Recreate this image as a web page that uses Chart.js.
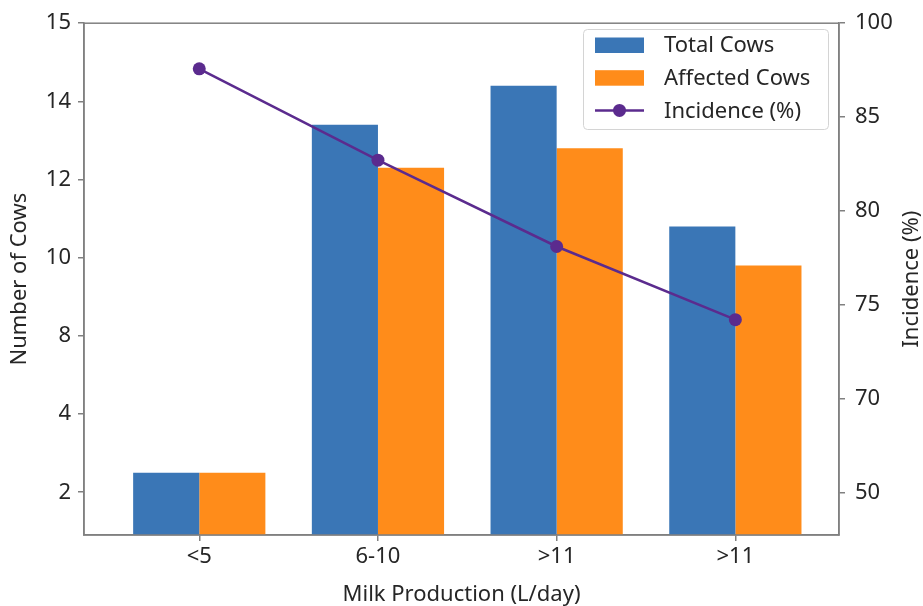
<!DOCTYPE html>
<html>
<head>
<meta charset="utf-8">
<script src="https://cdn.jsdelivr.net/npm/chart.js@4.4.0/dist/chart.umd.min.js"></script>
<style>
  html, body { margin: 0; padding: 0; background: #fff; }
</style>
</head>
<body>
<canvas id="chart" width="923" height="606"></canvas>
<script>
// data
const categories = ['<5', '6-10', '>11', '>11'];
const totalCows = [2.5, 13.4, 14.2, 10.8];
const affectedCows = [2.5, 12.3, 12.8, 9.8];
const incidence = [92.7, 82.7, 78.1, 74.2];

// printed tick labels; they sit evenly spaced although the numbers are not
const cowTicks = [2, 4, 8, 10, 12, 14, 15];
const incTicks = [50, 70, 75, 80, 85, 100];

// value -> position on a warped axis (linear between neighbouring printed ticks)
function slot(v, ticks) {
    for (let i = 0; i < ticks.length - 1; i++) {
        if (v <= ticks[i + 1] || i === ticks.length - 2) {
            return i + (v - ticks[i]) / (ticks[i + 1] - ticks[i]);
        }
    }
}

const font = { family: '"Noto Sans", sans-serif', size: 22 };
const ink = '#262626';
const spine = '#808080';
const colors = { total: '#3a76b6', affected: '#ff8c1a', incidence: '#5b2b8e' };

const yMin = -0.547;   // axis runs a bit below the lowest printed tick
const y1Min = -0.455;

const axisGrid = { display: true, drawOnChartArea: false, drawTicks: true, tickLength: 6, color: spine, lineWidth: 1.5, offset: false };
const axisBorder = { display: true, color: spine, width: 1.5 };

const extras = {
    id: 'extras',
    afterDraw(chart) {
        const ctx = chart.ctx, a = chart.chartArea;
        ctx.save();
        // full box round the plot
        ctx.strokeStyle = spine;
        ctx.lineWidth = 1.5;
        ctx.strokeRect(a.left, a.top, a.right - a.left, a.bottom - a.top);

        // right axis title, reading bottom to top
        ctx.fillStyle = ink;
        ctx.font = `${font.size}px ${font.family}`;
        ctx.textAlign = 'center';
        ctx.textBaseline = 'middle';
        ctx.translate(912, (a.top + a.bottom) / 2);
        ctx.rotate(-Math.PI / 2);
        ctx.fillText(chart.options.scales.y1.title.text, 0, 0);
        ctx.restore();

        // legend box
        const bx = 583.5, by = 29.5, bw = 245, bh = 100, r = 4;
        ctx.save();
        ctx.beginPath();
        ctx.moveTo(bx + r, by);
        ctx.arcTo(bx + bw, by, bx + bw, by + bh, r);
        ctx.arcTo(bx + bw, by + bh, bx, by + bh, r);
        ctx.arcTo(bx, by + bh, bx, by, r);
        ctx.arcTo(bx, by, bx + bw, by, r);
        ctx.closePath();
        ctx.fillStyle = 'rgba(255,255,255,0.85)';
        ctx.fill();
        ctx.strokeStyle = '#d4d4d4';
        ctx.lineWidth = 1;
        ctx.stroke();

        ctx.font = `${font.size}px ${font.family}`;
        ctx.textAlign = 'left';
        ctx.textBaseline = 'middle';
        chart.data.datasets.forEach((ds, i) => {
            const cy = 45 + i * 32.7;
            if (ds.type === 'bar') {
                ctx.fillStyle = ds.backgroundColor;
                ctx.fillRect(595, cy - 7.5, 49, 15.5);
            } else {
                ctx.strokeStyle = ds.borderColor;
                ctx.lineWidth = ds.borderWidth;
                ctx.beginPath();
                ctx.moveTo(595, cy);
                ctx.lineTo(644, cy);
                ctx.stroke();
                ctx.fillStyle = ds.backgroundColor;
                ctx.beginPath();
                ctx.arc(619.5, cy, ds.pointRadius, 0, Math.PI * 2);
                ctx.fill();
            }
            ctx.fillStyle = ink;
            ctx.fillText(ds.label, 664, cy + 1);
        });
        ctx.restore();
    }
};

new Chart(document.getElementById('chart'), {
    type: 'bar',
    data: {
        datasets: [
            {
                type: 'bar',
                label: 'Total Cows',
                yAxisID: 'y',
                data: totalCows.map((v, i) => ({ x: i, y: slot(v, cowTicks) })),
                base: yMin,
                backgroundColor: colors.total,
                categoryPercentage: 0.74,
                barPercentage: 1.0,
                order: 1
            },
            {
                type: 'bar',
                label: 'Affected Cows',
                yAxisID: 'y',
                data: affectedCows.map((v, i) => ({ x: i, y: slot(v, cowTicks) })),
                base: yMin,
                backgroundColor: colors.affected,
                categoryPercentage: 0.74,
                barPercentage: 1.0,
                order: 1
            },
            {
                type: 'line',
                label: 'Incidence (%)',
                yAxisID: 'y1',
                data: incidence.map((v, i) => ({ x: i, y: slot(v, incTicks) })),
                borderColor: colors.incidence,
                backgroundColor: colors.incidence,
                borderWidth: 2.5,
                pointRadius: 6.5,
                pointHoverRadius: 6.5,
                pointBorderWidth: 0,
                order: 0
            }
        ]
    },
    options: {
        responsive: false,
        animation: false,
        layout: { padding: { top: 20, left: 0, right: 0, bottom: 0 } },
        plugins: {
            legend: { display: false },
            tooltip: { enabled: false }
        },
        scales: {
            x: {
                type: 'linear',
                min: -0.645,
                max: 3.58,
                offset: false,
                afterBuildTicks: s => { s.ticks = categories.map((c, i) => ({ value: i })); },
                afterFit: s => { s.height = 71; },
                ticks: { callback: (v, i) => categories[i], font: font, color: ink, padding: 3, maxRotation: 0, autoSkip: false },
                grid: axisGrid,
                border: axisBorder,
                title: { display: true, text: 'Milk Production (L/day)', font: { ...font, lineHeight: 1.0 }, color: ink, padding: { top: 0, bottom: 0 } }
            },
            y: {
                type: 'linear',
                position: 'left',
                min: yMin,
                max: 6,
                afterBuildTicks: s => { s.ticks = cowTicks.map((t, i) => ({ value: i })); },
                afterFit: s => { s.width = 84; },
                ticks: { callback: (v, i) => cowTicks[i], font: font, color: ink, padding: 7 },
                grid: axisGrid,
                border: axisBorder,
                title: { display: true, text: 'Number of Cows', font: font, color: ink, padding: { top: 7, bottom: 0 } }
            },
            y1: {
                type: 'linear',
                position: 'right',
                min: y1Min,
                max: 5,
                afterBuildTicks: s => { s.ticks = incTicks.map((t, i) => ({ value: i })); },
                afterFit: s => { s.width = 84; },
                ticks: { callback: (v, i) => incTicks[i], font: font, color: ink, padding: 10 },
                grid: axisGrid,
                border: axisBorder,
                title: { display: false, text: 'Incidence (%)' }
            }
        }
    },
    plugins: [extras]
});
</script>
</body>
</html>
